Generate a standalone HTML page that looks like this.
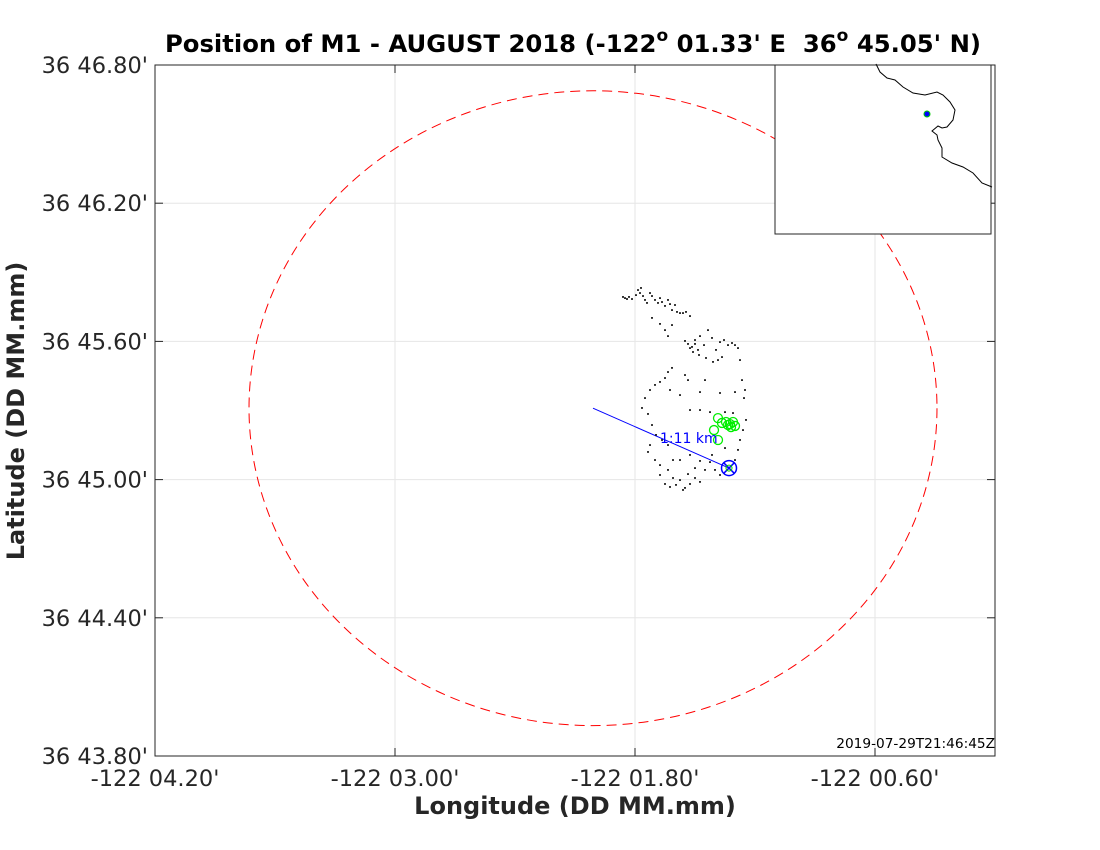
<!DOCTYPE html>
<html><head><meta charset="utf-8"><style>
body{margin:0;background:#fff}
svg{display:block;font-family:"DejaVu Sans","Liberation Sans",sans-serif}
</style></head><body>
<svg width="1100" height="850" viewBox="0 0 1100 850" id="chart">
<rect width="1100" height="850" fill="#fff"/>
<text x="573" y="52" text-anchor="middle" font-size="24.3" font-weight="bold" fill="#000" xml:space="preserve">Position of M1 - AUGUST 2018 (-122<tspan dy="-11" font-size="17">o</tspan><tspan dy="11"> 01.33' E &#160;36</tspan><tspan dy="-11" font-size="17">o</tspan><tspan dy="11"> 45.05' N)</tspan></text>
<g id="grid"></g>
<g id="axes"></g>
<g id="marks"></g>
<text x="995" y="748" text-anchor="end" font-size="13.7" fill="#000">2019-07-29T21:46:45Z</text>
<text x="575" y="814" text-anchor="middle" font-size="24" font-weight="bold" fill="#262626">Longitude (DD MM.mm)</text>
<text transform="translate(24,411) rotate(-90)" text-anchor="middle" font-size="24" font-weight="bold" fill="#262626">Latitude (DD MM.mm)</text>
<g id="inset"></g>
</svg>
<script>
const xTicks=[-4.2,-3.0,-1.8,-0.6];
const xTickLabels=["-122 04.20'","-122 03.00'","-122 01.80'","-122 00.60'"];
const yTicks=[43.8,44.4,45.0,45.6,46.2,46.8];
const yTickLabels=["36 43.80'","36 44.40'","36 45.00'","36 45.60'","36 46.20'","36 46.80'"];
const center=[-2.01,45.31];
const radiusLat=1.378;
const mooring=[-1.33,45.05];
const distanceLabel="1:11 km";
const trackPx=[[623,297],[625,298],[627,299],[629,297],[632,299],[636,295],[638,290],[640,293],[641,288],[643,296],[645,300],[647,303],[650,293],[652,296],[655,300],[658,303],[660,298],[662,302],[665,306],[668,300],[670,304],[672,310],[675,305],[677,312],[680,313],[683,313],[686,312],[690,316],[652,318],[660,324],[665,330],[668,336],[672,325],[685,341],[688,344],[692,347],[695,344],[698,350],[700,336],[704,345],[708,330],[712,338],[716,350],[720,342],[724,340],[728,345],[732,343],[735,345],[738,348],[740,360],[722,357],[718,360],[713,362],[706,358],[699,355],[693,352],[690,348],[672,368],[668,372],[665,378],[660,382],[655,385],[650,390],[645,398],[642,408],[648,414],[652,425],[656,435],[662,440],[668,445],[650,445],[648,452],[655,460],[660,465],[668,470],[673,478],[676,485],[670,487],[665,484],[680,480],[685,488],[690,484],[695,478],[700,482],[705,470],[710,462],[712,455],[700,461],[690,455],[680,460],[700,392],[720,393],[735,392],[745,390],[742,380],[744,398],[746,420],[743,430],[740,440],[738,450],[735,460],[725,448],[733,413],[685,375],[705,380],[700,410],[690,410],[710,412],[725,412],[680,395],[695,340],[670,390],[688,380],[673,460],[695,468],[715,470],[720,475],[683,490],[688,474],[660,475]];
const greenPx=[[718,418],[714,430],[718,440],[722,423],[726,422],[730,424],[733,422],[735,426],[731,427],[728,425]];
const X0=155,X1=995,Y0=65,Y1=756,xMin=-4.2,xMax=0.0,yMin=43.8,yMax=46.8;
const lonOf=p=>xMin+(p-X0)/(X1-X0)*(xMax-xMin), latOf=p=>yMax-(p-Y0)/(Y1-Y0)*(yMax-yMin);
const trackLon=trackPx.map(p=>+lonOf(p[0]).toFixed(3)), trackLat=trackPx.map(p=>+latOf(p[1]).toFixed(3));
const greenLon=greenPx.map(p=>+lonOf(p[0]).toFixed(3)), greenLat=greenPx.map(p=>+latOf(p[1]).toFixed(3));
const coast=[[876,64],[880,72],[887,78],[895,80],[903,87],[913,93],[925,95],[937,92],[943,95],[950,102],[955,110],[953,120],[947,127],[942,128],[938,126],[932,131],[937,135],[938,140],[942,148],[942,157],[952,163],[963,167],[973,173],[982,183],[992,187]];

const NS="http://www.w3.org/2000/svg";
const sx=v=>X0+(v-xMin)/(xMax-xMin)*(X1-X0);
const sy=v=>Y0+(yMax-v)/(yMax-yMin)*(Y1-Y0);
function mk(tag,attrs,parent){const e=document.createElementNS(NS,tag);for(const k in attrs)e.setAttribute(k,attrs[k]);parent.appendChild(e);return e;}
const grid=document.getElementById('grid'),axes=document.getElementById('axes'),marks=document.getElementById('marks'),inset=document.getElementById('inset');
xTicks.forEach((t,i)=>{const x=sx(t);
 let g=mk('line',{x1:x,x2:x,y1:Y0,y2:Y1,stroke:'#e6e6e6','stroke-width':1},grid);
 
 
 mk('line',{x1:x,x2:x,y1:Y1,y2:Y1-8,stroke:'#262626'},axes);
 mk('line',{x1:x,x2:x,y1:Y0,y2:Y0+8,stroke:'#262626'},axes);
 let tx=mk('text',{x:x,y:786,'text-anchor':'middle','font-size':22.5,fill:'#262626'},axes);tx.textContent=xTickLabels[i];
 
 });
yTicks.forEach((t,i)=>{const y=sy(t);
 let g=mk('line',{x1:X0,x2:X1,y1:y,y2:y,stroke:'#e6e6e6','stroke-width':1},grid);
 
 
 mk('line',{x1:X0,x2:X0+8,y1:y,y2:y,stroke:'#262626'},axes);
 mk('line',{x1:X1,x2:X1-8,y1:y,y2:y,stroke:'#262626'},axes);
 let tx=mk('text',{x:148,y:y+8,'text-anchor':'end','font-size':22.5,fill:'#262626'},axes);tx.textContent=yTickLabels[i];
 
 });
let box=mk('rect',{x:X0,y:Y0,width:X1-X0,height:Y1-Y0,fill:'none',stroke:'#262626','stroke-width':1},axes);


const cosL=Math.cos((36+center[1]/60)*Math.PI/180);
const rx=sx(center[0]+radiusLat/cosL)-sx(center[0]), ry=sy(center[1]-radiusLat)-sy(center[1]);
let c=mk('ellipse',{cx:sx(center[0]),cy:sy(center[1]),rx:rx,ry:ry,fill:'none',stroke:'#ff0000','stroke-width':1,'stroke-dasharray':'10 6'},marks);


let ln=mk('line',{x1:sx(center[0]),y1:sy(center[1]),x2:sx(mooring[0]),y2:sy(mooring[1]),stroke:'#0000ff','stroke-width':1},marks);


trackLon.forEach((v,i)=>{let d=mk('rect',{x:sx(v)-0.9,y:sy(trackLat[i])-0.9,width:1.8,height:1.8,fill:'#111'},marks);
 
 });
greenLon.forEach((v,i)=>{let d=mk('circle',{cx:sx(v),cy:sy(greenLat[i]),r:4.5,fill:'none',stroke:'#00ee00','stroke-width':1.3},marks);
 
 });
const mx=sx(mooring[0]),my=sy(mooring[1]);
let mc=mk('circle',{cx:mx,cy:my,r:7.5,fill:'none',stroke:'#0000ff','stroke-width':1.5},marks);


mk('path',{d:`M${mx-5} ${my-5}L${mx+5} ${my+5}M${mx+5} ${my-5}L${mx-5} ${my+5}`,stroke:'#0000ff','stroke-width':1.5},marks);
mk('circle',{cx:mx,cy:my,r:3,fill:'none',stroke:'#00cc00','stroke-width':1},marks);
let dl=mk('text',{x:sx(center[0])+67,y:sy(center[1])+35,'text-anchor':'start','font-size':14,fill:'#0000ff'},marks);dl.textContent=distanceLabel;


let ib=mk('rect',{x:775,y:65,width:216,height:169,fill:'#fff',stroke:'#262626','stroke-width':1},inset);


let cp=mk('polyline',{points:coast.map(p=>p.join(',')).join(' '),fill:'none',stroke:'#000','stroke-width':1},inset);


mk('circle',{cx:927,cy:114,r:3,fill:'#0000ff',stroke:'#00cc00','stroke-width':1},inset);
</script>
</body></html>
